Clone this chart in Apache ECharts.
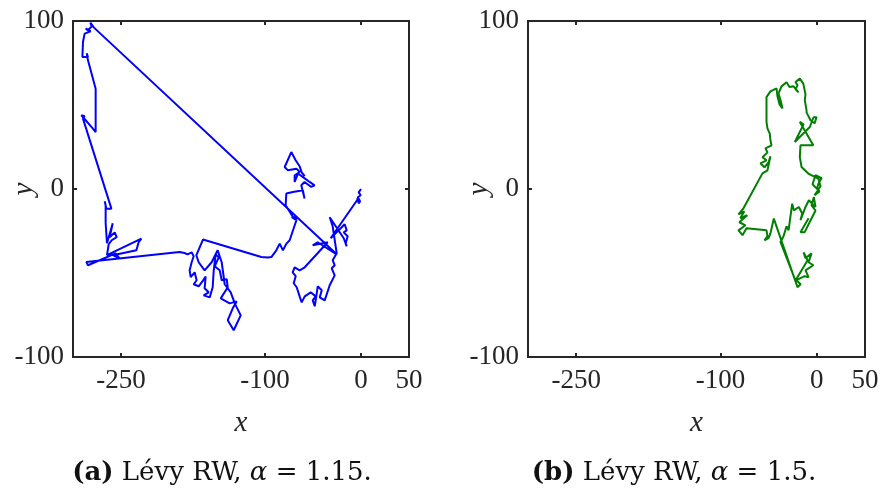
<!DOCTYPE html>
<html>
<head>
<meta charset="utf-8">
<script src="https://cdn.jsdelivr.net/npm/echarts@6/dist/echarts.min.js"></script>
<style>
  html, body { margin: 0; padding: 0; background: #fff; }
  #chart { width: 882px; height: 492px; }
</style>
</head>
<body>
<div id="chart"></div>
<script>
// Tick positions shown on the axes
const xTicks = [-250, -100, 0, 50];
const yTicks = [-100, 0, 100];

// Panel captions
const captionA = { tag: '(a)', text: ' Lévy RW, ', param: 'α', value: ' = 1.15.' };
const captionB = { tag: '(b)', text: ' Lévy RW, ', param: 'α', value: ' = 1.5.' };

// Walk (a): alpha = 1.15, starts at the origin
const walkA = [
  [0,0],[-2.4,-2.0],[-0.3,-3.7],[-3.4,-4.9],[-1.4,-6.7],[-4.0,-5.5],[-2.4,-8.5],[-0.8,-7.3],[-3.4,-6.1],
  [-31.6,-29.3],[-26.4,-26.4],[-21.1,-23.4],[-17.0,-21.0],[-14.9,-24.6],[-18.0,-25.8],[-13.9,-28.1],
  [-15.9,-32.3],[-14.9,-34.1],[-18.0,-29.3],[-32.6,-16.8],[-29.5,-22.2],[-25.3,-38.3],
  [-29.5,-42.4],[-27.4,-45.4],[-30.5,-47.2],[-27.4,-51.4],[-32.6,-57.3],[-37.8,-66.3],[-43.0,-64.5],
  [-40.9,-60.3],[-45.1,-57.9],[-46.1,-62.1],[-48.2,-69.8],[-50.3,-66.3],[-47.2,-63.9],[-52.4,-61.5],
  [-58.6,-63.9],[-61.8,-67.5],[-63.9,-63.9],[-67.0,-58.5],[-70.1,-56.1],[-68.0,-51.9],[-71.2,-49.6],
  [-69.1,-46.6],[-63.9,-48.4],[-58.6,-46.6],[-34.7,-31.7],[-50.3,-33.5],[-45.1,-31.7],[-25.3,-38.9],
  [-278.4,96.2],[-281.9,99.0],[-280.6,96.8],[-284.4,94.4],[-286.8,95.6],[-281.6,93.8],[-287.9,92.5],
  [-289.6,87.5],[-290.2,78.5],[-284.4,78.5],[-285.7,80.7],[-284.4,76.6],[-276.4,59.7],[-276.4,33.9],
  [-279.5,36.1],[-291.3,43.9],[-287.9,43.3],[-289.6,41.9],[-260.0,-11.7],[-265.2,-11.7],[-267.0,-7.3],
  [-266.0,-9.7],[-266.0,-20.4],[-264.6,-32.3],[-258.6,-20.4],[-261.8,-28.7],[-256.6,-25.8],[-254.5,-28.7],
  [-259.7,-30.5],[-262.8,-32.9],[-264.6,-39.4],[-228.8,-29.5],[-231.6,-31.7],[-234.0,-36.5],[-258.4,-39.4],
  [-251.4,-41.4],[-255.6,-38.3],[-284.4,-45.4],[-286.1,-43.4],[-189.0,-37.5],[-183.8,-38.1],
  [-180.7,-38.9],[-176.4,-37.7],[-174.3,-40.0],[-176.4,-43.6],[-178.5,-48.4],[-177.4,-52.5],[-173.3,-49.6],
  [-171.2,-54.3],[-174.3,-56.7],[-169.1,-57.9],[-165.0,-54.9],[-161.8,-52.1],[-162.9,-59.1],[-158.7,-61.5],
  [-163.9,-63.3],[-157.6,-64.5],[-154.5,-58.5],[-153.4,-48.4],[-151.4,-38.9],[-148.2,-40.7],[-152.4,-46.0],
  [-147.2,-48.4],[-145.1,-54.3],[-139.9,-53.7],[-138.8,-58.5],[-146.1,-65.1],[-136.8,-68.1],[-129.5,-66.9],
  [-133.6,-71.0],[-138.8,-78.1],[-132.6,-84.1],[-125.3,-75.2],[-131.5,-68.1],[-135.7,-61.5],[-142.0,-56.7],
  [-145.1,-43.6],[-149.3,-36.5],[-155.6,-43.6],[-162.9,-48.4],[-169.1,-43.6],[-171.5,-39.4],[-164.6,-30.1],
  [-103.8,-40.5],[-96.9,-40.8],[-93.4,-40.5],[-88.2,-36.5],[-84.7,-32.5],[-81.3,-36.5],[-77.7,-32.5],
  [-74.3,-30.5],[-67.3,-18.6],[-72.2,-16.8],[-66.0,-17.4],[-70.9,-16.7],[-78.5,-9.7],[-77.8,-2.7],
  [-70.9,-1.8],[-60.5,-0.8],[-58.8,-5.7],[-62.2,2.2],[-58.8,4.2],[-51.8,1.2],[-48.4,2.2],[-53.5,4.2],
  [-60.4,7.1],[-65.6,9.2],[-69.1,4.2],[-69.1,8.2],[-63.9,10.1],[-67.3,12.1],[-76.1,11.1],[-79.5,13.1],
  [-72.6,22.0],[-68.1,17.1],[-63.9,13.5],[-61.8,9.9],[-58.6,7.6]
];

// Walk (b): alpha = 1.5, starts at the origin
const walkB = [
  [0,0],[1.8,3.4],[4.9,6.4],[-1.4,8.2],[-4.5,2.8],[2.8,-1.4],[-2.4,-3.7],[3.8,1.6],[1.5,6.2],
  [-8.9,9.2],[-15.9,13.1],[-17.7,19.0],[-17.0,26.0],[-3.7,26.0],[-17.7,39.9],[-13.8,38.5],[-22.9,28.0],
  [-20.1,29.6],[-7.3,36.9],[-3.4,42.7],[-0.3,42.7],[-2.4,39.1],[-6.6,40.9],[-10.7,45.6],[-10.7,46.8],
  [-12.5,52.8],[-11.8,56.3],[-14.1,62.7],[-17.7,65.7],[-22.2,63.7],[-20.1,61.7],[-22.2,59.3],[-19.0,57.5],
  [-24.2,61.1],[-28.4,60.7],[-31.5,63.5],[-36.7,61.1],[-39.8,56.9],[-37.7,52.8],[-35.7,48.0],[-38.8,50.4],
  [-40.9,55.2],[-41.9,59.9],[-43.7,59.7],[-48.2,58.1],[-52.3,54.7],[-52.3,39.9],[-51.3,36.1],[-48.9,33.0],
  [-48.2,29.0],[-47.1,26.0],[-53.4,24.2],[-51.3,21.8],[-56.5,18.9],[-52.3,17.1],[-58.6,15.3],[-54.4,12.9],
  [-50.2,15.9],[-48.2,19.5],[-51.3,11.1],[-56.5,9.3],[-76.5,-11.7],[-81.4,-15.1],[-75.3,-13.3],
  [-79.5,-17.4],[-72.3,-15.6],[-80.5,-19.8],[-74.2,-21.6],[-81.4,-24.6],[-77.2,-27.5],[-73.1,-23.4],
  [-52.3,-24.6],[-51.3,-28.1],[-54.4,-30.5],[-50.2,-29.3],[-48.2,-26.4],[-44.7,-17.6],[-20.1,-58.5],
  [-16.9,-56.7],[-21.2,-54.3],[-12.8,-51.9],[-8.6,-52.5],[-11.8,-48.4],[-3.7,-45.4],[-8.6,-43.6],
  [-5.5,-38.3],[-11.8,-41.2],[-13.8,-37.7],[-9.6,-42.4],[-22.2,-54.5],[-37.8,-31.5],[-34.6,-28.1],
  [-31.5,-22.2],[-29.4,-24.6],[-25.6,-8.7],[-23.9,-12.7],[-18.7,-10.7],[-15.2,-14.6],[-17.0,-18.6],
  [-11.8,-10.7],[-8.3,-6.7],[-1.4,-10.7],[-3.1,-4.8],[-5.5,-9.7],[-1.4,-12.8],[-12.8,-25.8],
  [-17.0,-25.8],[-8.6,-17.4]
];

const chart = echarts.init(document.getElementById('chart'), null, { renderer: 'canvas' });

const SERIF = '"Liberation Serif", "DejaVu Serif", serif';
const CAPTION_FONT = '"DejaVu Serif", "Liberation Serif", serif';
const INK = '#262626';
const FS = 27;
const CAP_FS = 26;

function grid(left, width) {
  return { left: left, top: 21, width: width, height: 336, show: true,
           borderColor: INK, borderWidth: 2, backgroundColor: '#fff',
           containLabel: false, outerBoundsMode: 'none' };
}

const tickStyle = { color: INK, width: 2 };

function xAxisMain(gi) {
  return {
    type: 'value', gridIndex: gi, min: -300, max: 50, position: 'bottom',
    name: 'x', nameLocation: 'middle', nameGap: 52, nameMoveOverlap: false,
    nameTextStyle: { fontFamily: SERIF, fontSize: 29, fontStyle: 'italic', color: INK },
    axisLine: { show: false, onZero: false }, splitLine: { show: false },
    axisTick: { show: true, inside: true, length: 4, customValues: xTicks, lineStyle: tickStyle },
    axisLabel: { show: true, customValues: xTicks, margin: 10, fontFamily: SERIF, fontSize: FS, color: INK }
  };
}
function xAxisTop(gi) {
  return {
    type: 'value', gridIndex: gi, min: -300, max: 50, position: 'top',
    axisLine: { show: false, onZero: false }, splitLine: { show: false }, axisLabel: { show: false },
    axisTick: { show: true, inside: true, length: 4, customValues: xTicks, lineStyle: tickStyle }
  };
}
function yAxisMain(gi) {
  return {
    type: 'value', gridIndex: gi, min: -100, max: 100, interval: 100, position: 'left',
    name: 'y', nameLocation: 'middle', nameGap: 34, nameMoveOverlap: false,
    nameTextStyle: { fontFamily: SERIF, fontSize: 29, fontStyle: 'italic', color: INK },
    axisLine: { show: false, onZero: false }, splitLine: { show: false },
    axisTick: { show: true, inside: true, length: 4, customValues: yTicks, lineStyle: tickStyle },
    axisLabel: { show: true, customValues: yTicks, margin: 9, fontFamily: SERIF, fontSize: FS, color: INK }
  };
}
function yAxisRight(gi) {
  return {
    type: 'value', gridIndex: gi, min: -100, max: 100, interval: 100, position: 'right',
    axisLine: { show: false, onZero: false }, splitLine: { show: false }, axisLabel: { show: false },
    axisTick: { show: true, inside: true, length: 4, customValues: yTicks, lineStyle: tickStyle }
  };
}

function caption(c, cx) {
  return {
    type: 'text', x: cx, y: 473,
    style: {
      text: '{b|' + c.tag + '}{n|' + c.text + '}{i|' + c.param + '}{n|' + c.value + '}',
      align: 'center', verticalAlign: 'middle',
      rich: {
        b: { fontFamily: CAPTION_FONT, fontSize: CAP_FS, fontWeight: 'bold', fill: '#111' },
        n: { fontFamily: CAPTION_FONT, fontSize: CAP_FS, fill: '#111' },
        i: { fontFamily: CAPTION_FONT, fontSize: CAP_FS, fontStyle: 'italic', fill: '#111' }
      }
    }
  };
}

chart.setOption({
  animation: false,
  backgroundColor: '#fff',
  grid: [grid(73, 336), grid(528, 337)],
  xAxis: [xAxisMain(0), xAxisTop(0), xAxisMain(1), xAxisTop(1)],
  yAxis: [yAxisMain(0), yAxisRight(0), yAxisMain(1), yAxisRight(1)],
  series: [
    { type: 'line', xAxisIndex: 0, yAxisIndex: 0, data: walkA, showSymbol: false,
      lineStyle: { color: '#0000ff', width: 2 }, clip: true },
    { type: 'line', xAxisIndex: 2, yAxisIndex: 2, data: walkB, showSymbol: false,
      lineStyle: { color: '#007f00', width: 2 }, clip: true }
  ],
  graphic: [caption(captionA, 222), caption(captionB, 674)]
});
</script>
</body>
</html>
